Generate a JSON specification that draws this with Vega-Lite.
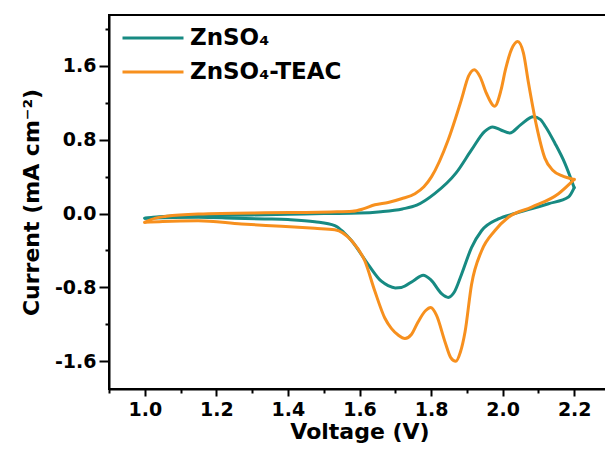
{
  "$schema": "https://vega.github.io/schema/vega-lite/v6.json",
  "width": 501,
  "height": 374,
  "autosize": {"type": "none"},
  "padding": {"left": 109, "top": 15, "right": 0, "bottom": 65},
  "background": "white",
  "config": {"view": {"stroke": "black", "strokeWidth": 2}, "font": "DejaVu Sans"},
  "data": {"values": [
    {"s": "ZnSO₄", "b": "up", "v": 1.00, "c": -0.05},
    {"s": "ZnSO₄", "b": "up", "v": 1.04, "c": -0.035},
    {"s": "ZnSO₄", "b": "up", "v": 1.10, "c": -0.025},
    {"s": "ZnSO₄", "b": "up", "v": 1.20, "c": -0.02},
    {"s": "ZnSO₄", "b": "up", "v": 1.30, "c": -0.015},
    {"s": "ZnSO₄", "b": "up", "v": 1.40, "c": -0.008},
    {"s": "ZnSO₄", "b": "up", "v": 1.50, "c": 0.0},
    {"s": "ZnSO₄", "b": "up", "v": 1.60, "c": 0.005},
    {"s": "ZnSO₄", "b": "up", "v": 1.66, "c": 0.02},
    {"s": "ZnSO₄", "b": "up", "v": 1.72, "c": 0.05},
    {"s": "ZnSO₄", "b": "up", "v": 1.76, "c": 0.09},
    {"s": "ZnSO₄", "b": "up", "v": 1.81, "c": 0.215},
    {"s": "ZnSO₄", "b": "up", "v": 1.87, "c": 0.44},
    {"s": "ZnSO₄", "b": "up", "v": 1.913, "c": 0.689},
    {"s": "ZnSO₄", "b": "up", "v": 1.95, "c": 0.89},
    {"s": "ZnSO₄", "b": "up", "v": 1.972, "c": 0.938},
    {"s": "ZnSO₄", "b": "up", "v": 1.995, "c": 0.905},
    {"s": "ZnSO₄", "b": "up", "v": 2.02, "c": 0.872},
    {"s": "ZnSO₄", "b": "up", "v": 2.05, "c": 0.96},
    {"s": "ZnSO₄", "b": "up", "v": 2.086, "c": 1.047},
    {"s": "ZnSO₄", "b": "up", "v": 2.105, "c": 1.02},
    {"s": "ZnSO₄", "b": "up", "v": 2.12, "c": 0.94},
    {"s": "ZnSO₄", "b": "up", "v": 2.146, "c": 0.762},
    {"s": "ZnSO₄", "b": "up", "v": 2.174, "c": 0.544},
    {"s": "ZnSO₄", "b": "up", "v": 2.20, "c": 0.28},
    {"s": "ZnSO₄", "b": "down", "v": 1.00, "c": -0.05},
    {"s": "ZnSO₄", "b": "down", "v": 1.05, "c": -0.045},
    {"s": "ZnSO₄", "b": "down", "v": 1.15, "c": -0.04},
    {"s": "ZnSO₄", "b": "down", "v": 1.25, "c": -0.05},
    {"s": "ZnSO₄", "b": "down", "v": 1.335, "c": -0.058},
    {"s": "ZnSO₄", "b": "down", "v": 1.40, "c": -0.065},
    {"s": "ZnSO₄", "b": "down", "v": 1.475, "c": -0.088},
    {"s": "ZnSO₄", "b": "down", "v": 1.531, "c": -0.13},
    {"s": "ZnSO₄", "b": "down", "v": 1.555, "c": -0.2},
    {"s": "ZnSO₄", "b": "down", "v": 1.578, "c": -0.295},
    {"s": "ZnSO₄", "b": "down", "v": 1.624, "c": -0.55},
    {"s": "ZnSO₄", "b": "down", "v": 1.661, "c": -0.733},
    {"s": "ZnSO₄", "b": "down", "v": 1.68, "c": -0.78},
    {"s": "ZnSO₄", "b": "down", "v": 1.70, "c": -0.805},
    {"s": "ZnSO₄", "b": "down", "v": 1.717, "c": -0.80},
    {"s": "ZnSO₄", "b": "down", "v": 1.75, "c": -0.73},
    {"s": "ZnSO₄", "b": "down", "v": 1.778, "c": -0.667},
    {"s": "ZnSO₄", "b": "down", "v": 1.80, "c": -0.72},
    {"s": "ZnSO₄", "b": "down", "v": 1.83, "c": -0.87},
    {"s": "ZnSO₄", "b": "down", "v": 1.848, "c": -0.908},
    {"s": "ZnSO₄", "b": "down", "v": 1.865, "c": -0.85},
    {"s": "ZnSO₄", "b": "down", "v": 1.885, "c": -0.66},
    {"s": "ZnSO₄", "b": "down", "v": 1.913, "c": -0.369},
    {"s": "ZnSO₄", "b": "down", "v": 1.941, "c": -0.186},
    {"s": "ZnSO₄", "b": "down", "v": 1.988, "c": -0.058},
    {"s": "ZnSO₄", "b": "down", "v": 2.034, "c": 0.0},
    {"s": "ZnSO₄", "b": "down", "v": 2.08, "c": 0.05},
    {"s": "ZnSO₄", "b": "down", "v": 2.128, "c": 0.106},
    {"s": "ZnSO₄", "b": "down", "v": 2.184, "c": 0.178},
    {"s": "ZnSO₄", "b": "down", "v": 2.20, "c": 0.28},
    {"s": "ZnSO₄-TEAC", "b": "up", "v": 1.00, "c": -0.095},
    {"s": "ZnSO₄-TEAC", "b": "up", "v": 1.03, "c": -0.05},
    {"s": "ZnSO₄-TEAC", "b": "up", "v": 1.06, "c": -0.03},
    {"s": "ZnSO₄-TEAC", "b": "up", "v": 1.15, "c": -0.005},
    {"s": "ZnSO₄-TEAC", "b": "up", "v": 1.335, "c": 0.008},
    {"s": "ZnSO₄-TEAC", "b": "up", "v": 1.45, "c": 0.012},
    {"s": "ZnSO₄-TEAC", "b": "up", "v": 1.52, "c": 0.018},
    {"s": "ZnSO₄-TEAC", "b": "up", "v": 1.58, "c": 0.025},
    {"s": "ZnSO₄-TEAC", "b": "up", "v": 1.61, "c": 0.05},
    {"s": "ZnSO₄-TEAC", "b": "up", "v": 1.643, "c": 0.095},
    {"s": "ZnSO₄-TEAC", "b": "up", "v": 1.68, "c": 0.12},
    {"s": "ZnSO₄-TEAC", "b": "up", "v": 1.717, "c": 0.16},
    {"s": "ZnSO₄-TEAC", "b": "up", "v": 1.755, "c": 0.215},
    {"s": "ZnSO₄-TEAC", "b": "up", "v": 1.78, "c": 0.29},
    {"s": "ZnSO₄-TEAC", "b": "up", "v": 1.801, "c": 0.397},
    {"s": "ZnSO₄-TEAC", "b": "up", "v": 1.848, "c": 0.799},
    {"s": "ZnSO₄-TEAC", "b": "up", "v": 1.885, "c": 1.236},
    {"s": "ZnSO₄-TEAC", "b": "up", "v": 1.905, "c": 1.49},
    {"s": "ZnSO₄-TEAC", "b": "up", "v": 1.921, "c": 1.557},
    {"s": "ZnSO₄-TEAC", "b": "up", "v": 1.937, "c": 1.48},
    {"s": "ZnSO₄-TEAC", "b": "up", "v": 1.955, "c": 1.30},
    {"s": "ZnSO₄-TEAC", "b": "up", "v": 1.978, "c": 1.163},
    {"s": "ZnSO₄-TEAC", "b": "up", "v": 1.995, "c": 1.33},
    {"s": "ZnSO₄-TEAC", "b": "up", "v": 2.008, "c": 1.56},
    {"s": "ZnSO₄-TEAC", "b": "up", "v": 2.025, "c": 1.78},
    {"s": "ZnSO₄-TEAC", "b": "up", "v": 2.042, "c": 1.863},
    {"s": "ZnSO₄-TEAC", "b": "up", "v": 2.058, "c": 1.74},
    {"s": "ZnSO₄-TEAC", "b": "up", "v": 2.072, "c": 1.42},
    {"s": "ZnSO₄-TEAC", "b": "up", "v": 2.095, "c": 0.944},
    {"s": "ZnSO₄-TEAC", "b": "up", "v": 2.118, "c": 0.60},
    {"s": "ZnSO₄-TEAC", "b": "up", "v": 2.14, "c": 0.47},
    {"s": "ZnSO₄-TEAC", "b": "up", "v": 2.165, "c": 0.41},
    {"s": "ZnSO₄-TEAC", "b": "up", "v": 2.20, "c": 0.37},
    {"s": "ZnSO₄-TEAC", "b": "down", "v": 1.00, "c": -0.095},
    {"s": "ZnSO₄-TEAC", "b": "down", "v": 1.05, "c": -0.085},
    {"s": "ZnSO₄-TEAC", "b": "down", "v": 1.149, "c": -0.077},
    {"s": "ZnSO₄-TEAC", "b": "down", "v": 1.27, "c": -0.113},
    {"s": "ZnSO₄-TEAC", "b": "down", "v": 1.382, "c": -0.138},
    {"s": "ZnSO₄-TEAC", "b": "down", "v": 1.475, "c": -0.16},
    {"s": "ZnSO₄-TEAC", "b": "down", "v": 1.531, "c": -0.175},
    {"s": "ZnSO₄-TEAC", "b": "down", "v": 1.578, "c": -0.295},
    {"s": "ZnSO₄-TEAC", "b": "down", "v": 1.615, "c": -0.514},
    {"s": "ZnSO₄-TEAC", "b": "down", "v": 1.643, "c": -0.842},
    {"s": "ZnSO₄-TEAC", "b": "down", "v": 1.671, "c": -1.134},
    {"s": "ZnSO₄-TEAC", "b": "down", "v": 1.689, "c": -1.244},
    {"s": "ZnSO₄-TEAC", "b": "down", "v": 1.708, "c": -1.316},
    {"s": "ZnSO₄-TEAC", "b": "down", "v": 1.727, "c": -1.353},
    {"s": "ZnSO₄-TEAC", "b": "down", "v": 1.745, "c": -1.31},
    {"s": "ZnSO₄-TEAC", "b": "down", "v": 1.764, "c": -1.171},
    {"s": "ZnSO₄-TEAC", "b": "down", "v": 1.785, "c": -1.05},
    {"s": "ZnSO₄-TEAC", "b": "down", "v": 1.799, "c": -1.018},
    {"s": "ZnSO₄-TEAC", "b": "down", "v": 1.815, "c": -1.10},
    {"s": "ZnSO₄-TEAC", "b": "down", "v": 1.839, "c": -1.39},
    {"s": "ZnSO₄-TEAC", "b": "down", "v": 1.855, "c": -1.56},
    {"s": "ZnSO₄-TEAC", "b": "down", "v": 1.869, "c": -1.60},
    {"s": "ZnSO₄-TEAC", "b": "down", "v": 1.882, "c": -1.50},
    {"s": "ZnSO₄-TEAC", "b": "down", "v": 1.895, "c": -1.28},
    {"s": "ZnSO₄-TEAC", "b": "down", "v": 1.913, "c": -0.77},
    {"s": "ZnSO₄-TEAC", "b": "down", "v": 1.941, "c": -0.405},
    {"s": "ZnSO₄-TEAC", "b": "down", "v": 1.978, "c": -0.186},
    {"s": "ZnSO₄-TEAC", "b": "down", "v": 2.016, "c": -0.04},
    {"s": "ZnSO₄-TEAC", "b": "down", "v": 2.081, "c": 0.069},
    {"s": "ZnSO₄-TEAC", "b": "down", "v": 2.156, "c": 0.215},
    {"s": "ZnSO₄-TEAC", "b": "down", "v": 2.20, "c": 0.37}
  ]},
  "layer": [
    {
      "mark": {"type": "line", "interpolate": "monotone", "strokeWidth": 3, "strokeCap": "round", "strokeJoin": "round"},
      "encoding": {
        "x": {"field": "v", "type": "quantitative",
          "scale": {"domain": [0.9, 2.3], "nice": false, "zero": false},
          "axis": {"orient": "bottom", "values": [1.0, 1.2, 1.4, 1.6, 1.8, 2.0, 2.2], "format": ".1f",
            "grid": false, "domainColor": "black", "domainWidth": 2, "tickColor": "black", "tickWidth": 2, "tickSize": 7,
            "labelFont": "DejaVu Sans", "labelFontWeight": "bold", "labelFontSize": 19, "labelColor": "black", "labelPadding": 4,
            "title": "Voltage (V)", "titleFont": "DejaVu Sans", "titleFontWeight": "bold", "titleFontSize": 22, "titleColor": "black", "titlePadding": 2}},
        "y": {"field": "c", "type": "quantitative",
          "scale": {"domain": [-1.9, 2.15], "nice": false, "zero": false},
          "axis": {"orient": "left", "values": [-1.6, -0.8, 0, 0.8, 1.6], "format": ".1f",
            "labelExpr": "replace(datum.label, '−', '-')",
            "grid": false, "domainColor": "black", "domainWidth": 2, "tickColor": "black", "tickWidth": 2, "tickSize": 10,
            "labelFont": "DejaVu Sans", "labelFontWeight": "bold", "labelFontSize": 19, "labelColor": "black", "labelPadding": 3,
            "title": "Current (mA cm⁻²)", "titleFont": "DejaVu Sans", "titleFontWeight": "bold", "titleFontSize": 22, "titleColor": "black", "titlePadding": 11}},
        "color": {"field": "s", "type": "nominal",
          "scale": {"domain": ["ZnSO₄", "ZnSO₄-TEAC"], "range": ["#178a82", "#f7901e"]},
          "legend": {"orient": "none", "legendX": 12, "legendY": 6, "title": null, "symbolType": "stroke", "symbolSize": 3721,
            "symbolStrokeWidth": 3, "labelFont": "DejaVu Sans", "labelFontSize": 23, "labelFontWeight": "bold", "labelColor": "black",
            "labelOffset": 5, "rowPadding": 0, "clipHeight": 34}},
        "detail": {"field": "b"}
      }
    },
    {
      "mark": {"type": "point", "opacity": 0},
      "encoding": {
        "x": {"field": "v", "type": "quantitative",
          "axis": {"orient": "bottom", "values": [0.9, 1.1, 1.3, 1.5, 1.7, 1.9, 2.1, 2.3], "labels": false, "title": null,
            "domain": false, "grid": false, "tickColor": "black", "tickWidth": 2, "tickSize": 4}},
        "y": {"field": "c", "type": "quantitative",
          "axis": {"orient": "left", "values": [-1.2, -0.4, 0.4, 1.2, 2.0], "labels": false, "title": null,
            "domain": false, "grid": false, "tickColor": "black", "tickWidth": 2, "tickSize": 4}}
      }
    }
  ],
  "resolve": {"axis": {"x": "independent", "y": "independent"}}
}
